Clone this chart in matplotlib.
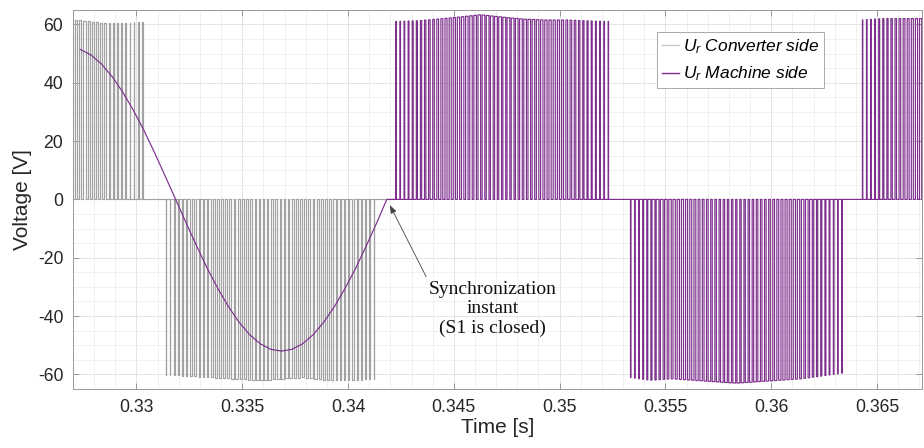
import numpy as np
import matplotlib
matplotlib.use('Agg')
import matplotlib.pyplot as plt

plt.rcParams['font.family'] = ['Liberation Sans', 'DejaVu Sans']
plt.rcParams['mathtext.fontset'] = 'custom'
plt.rcParams['mathtext.rm'] = 'Liberation Sans'
plt.rcParams['mathtext.it'] = 'Liberation Sans:italic'
plt.rcParams['axes.unicode_minus'] = False
plt.rcParams['path.simplify'] = False

# machine side voltage before synchronization
t_sine = [0.32735, 0.32785, 0.32835, 0.32885, 0.32935, 0.32985, 0.33035, 0.33085,
          0.33135, 0.33185, 0.33235, 0.33285, 0.33335, 0.33385, 0.33435, 0.33485,
          0.33535, 0.33585, 0.33635, 0.33685, 0.33735, 0.33785, 0.33835, 0.33885,
          0.33935, 0.33985, 0.34035, 0.34085, 0.34135, 0.34183, 0.34217]
v_sine = [51.4, 49.5, 46.4, 42.1, 36.8, 30.6, 23.7, 16.1,
          8.1, 0.0, -8.1, -16.1, -23.7, -30.6, -36.8, -42.1,
          -46.4, -49.5, -51.4, -52.0, -51.4, -49.5, -46.4, -42.1,
          -36.8, -30.6, -23.7, -16.1, -8.1, 0.0, 0.0]

# PWM blocks: start, end, polarity, number of pulses
conv_start = [0.32020, 0.33130]
conv_end = [0.33038, 0.34131]
conv_sign = [1, -1]
conv_pulses = [52, 51]
# peak level of the pulses along each block
conv_peak = [[61, 61, 61, 61, 61, 61, 62, 61.5, 60.5, 60.3, 61],
             [60, 60.5, 61, 61.5, 62, 61.5, 61, 62, 62, 61.5]]

mach_start = [0.34217, 0.35326, 0.36422]
mach_end = [0.35240, 0.36344, 0.37440]
mach_sign = [1, -1, 1]
mach_pulses = [52, 52, 52]
mach_peak = [[61, 61.2, 61.8, 62.5, 63.3, 62.5, 61.8, 61.5, 61.5, 61.2, 61],
             [61, 62, 61.5, 62, 62.5, 63, 62.5, 62, 61.5, 60.5, 59.5],
             [61.5, 62, 62, 62, 62, 62, 62, 62, 62, 62, 61.5]]

# pulse width relative to carrier period along a block
duty = [0.08, 0.3, 0.5, 0.62, 0.68, 0.62, 0.5, 0.3, 0.08]

xticks = [0.33, 0.335, 0.34, 0.345, 0.35, 0.355, 0.36, 0.365]
xtick_labels = ['0.33', '0.335', '0.34', '0.345', '0.35', '0.355', '0.36', '0.365']
yticks = [-60, -40, -20, 0, 20, 40, 60]

GRAY = '#a2a2a2'
PURPLE = '#7E2F8E'


def pwm_block(t0, t1, sign, n, peak):
    """Step waveform of n pulses between t0 and t1"""
    period = (t1 - t0) / n
    pos = (np.arange(n) + 0.5) / n
    heights = np.interp(pos, np.linspace(0, 1, len(peak)), peak)
    widths = np.interp(pos, np.linspace(0, 1, len(duty)), duty) * period
    centers = t0 + pos * (t1 - t0)
    xs = [t0]
    ys = [0.0]
    for c, w, h in zip(centers, widths, heights):
        xs += [c - w / 2, c - w / 2, c + w / 2, c + w / 2]
        ys += [0.0, sign * h, sign * h, 0.0]
    xs.append(t1)
    ys.append(0.0)
    return xs, ys


# converter side
xc, yc = [], []
for i in range(len(conv_start)):
    bx, by = pwm_block(conv_start[i], conv_end[i], conv_sign[i], conv_pulses[i], conv_peak[i])
    xc += bx
    yc += by
xc.append(mach_start[0])
yc.append(0.0)

# machine side
xm, ym = list(t_sine), list(v_sine)
for i in range(len(mach_start)):
    bx, by = pwm_block(mach_start[i], mach_end[i], mach_sign[i], mach_pulses[i], mach_peak[i])
    xm += bx
    ym += by

fig = plt.figure(figsize=(9.24, 4.48), dpi=100)
ax = fig.add_axes([0.0790, 0.1317, 0.9185, 0.8464])

ax.plot(xc, yc, color=GRAY, lw=0.85, label=r'$U_r$ Converter side')
ax.plot(xm, ym, color=PURPLE, lw=0.85, label=r'$U_r$ Machine side')

ax.set_xlim(0.32735, 0.36711)
ax.set_ylim(-65, 65)
ax.set_xticks(xticks)
ax.set_xticklabels(xtick_labels)
ax.set_yticks(yticks)
ax.set_xticks(np.arange(0.327, 0.3675, 0.001), minor=True)
ax.set_yticks(np.arange(-65, 66, 5), minor=True)
ax.tick_params(which='major', direction='in', length=4, width=0.6, color='#8a8a8a',
               top=True, right=True, labelsize=12.7, labelcolor='#262626', pad=7)
ax.tick_params(which='minor', length=0, top=True, right=True)
ax.grid(which='major', color='#e4e4e4', lw=0.7)
ax.grid(which='minor', color='#eeeeee', lw=0.6)
ax.set_axisbelow(True)
for s in ax.spines.values():
    s.set_color('#9a9a9a')
    s.set_linewidth(0.7)

ax.set_xlabel('Time [s]', fontsize=15, color='#262626', labelpad=2)
ax.set_ylabel('Voltage [V]', fontsize=15, color='#262626', labelpad=4)

ax.text(0.34682, -37.5, 'Synchronization\ninstant\n(S1 is closed)', ha='center', va='center',
        fontsize=14, family='Liberation Serif', linespacing=1.2, color='#111111')
ax.annotate('', xy=(0.34197, -1.9), xytext=(0.34369, -26.5),
            arrowprops=dict(arrowstyle='-|>,head_length=0.5,head_width=0.18', color='#444444',
                            lw=0.6, shrinkA=0, shrinkB=0))

leg = ax.legend(loc='upper left', bbox_to_anchor=(0.688, 0.9415), borderaxespad=0,
                prop={'style': 'italic', 'size': 12.5}, handlelength=1.0, handletextpad=0.2,
                fancybox=False, framealpha=1, edgecolor='#aaaaaa', borderpad=0.3,
                labelspacing=0.5)
leg.get_frame().set_linewidth(0.7)
leg.get_lines()[0].set_color('#c8c8c8')
for line in leg.get_lines():
    line.set_linewidth(1.0)

fig.savefig('out.png', dpi=100)
